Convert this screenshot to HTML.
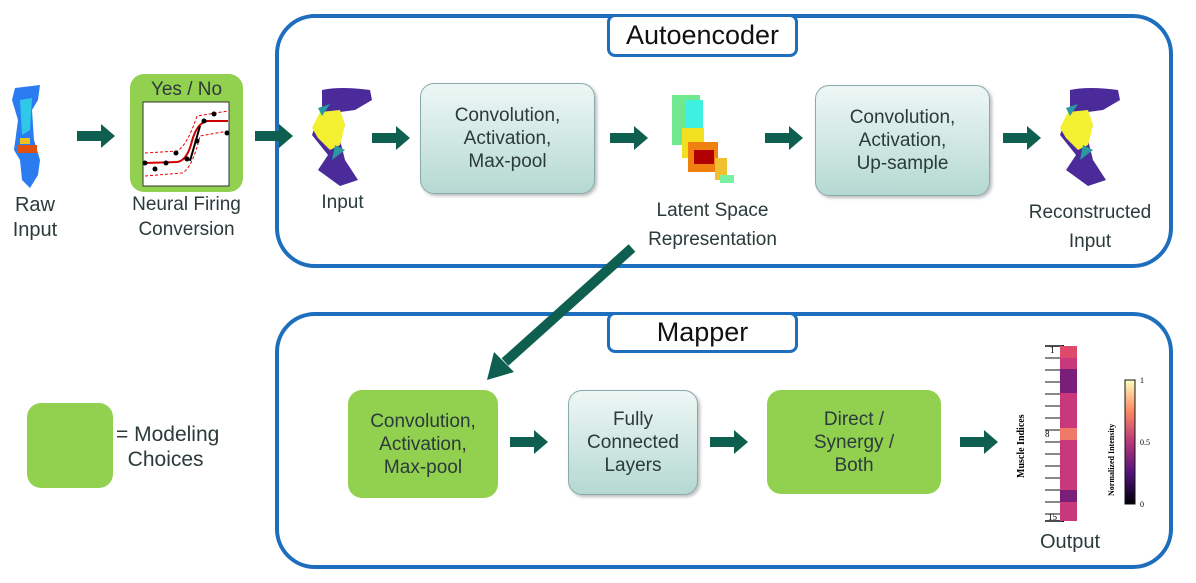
<!DOCTYPE html>
<html><head><style>
body{margin:0;width:1196px;height:583px;background:#fff;position:relative;overflow:hidden;font-family:"Liberation Sans",sans-serif;color:#222}
.a{position:absolute}
.big{border:4px solid #1d6fbd;border-radius:40px;box-sizing:border-box}
.title{background:#fff;border:3px solid #1d6fbd;border-radius:8px;box-sizing:border-box;font-size:27px;text-align:center;color:#111}
.teal{background:linear-gradient(#eef7f5,#b5d9d2);border:1px solid #8aa;border-radius:14px;box-sizing:border-box;display:flex;align-items:center;justify-content:center;text-align:center;font-size:19px;line-height:23px;color:#2b3a3a;box-shadow:2px 2px 3px #bbb}
.green{background:#92d050;border-radius:14px;display:flex;align-items:center;justify-content:center;text-align:center;font-size:19px;line-height:23px;color:#2b3a3a}
.lbl{font-size:19px;text-align:center;color:#2b3a3a;line-height:25px}
</style></head><body>
<div class="a big" style="left:275px;top:14px;width:898px;height:254px"></div>
<div class="a title" style="left:607px;top:14px;width:191px;height:43px;line-height:37px">Autoencoder</div>
<div class="a big" style="left:275px;top:312px;width:898px;height:257px"></div>
<div class="a title" style="left:607px;top:312px;width:191px;height:41px;line-height:35px">Mapper</div>

<div class="a teal" style="left:420px;top:83px;width:175px;height:111px">Convolution,<br>Activation,<br>Max-pool</div>
<div class="a teal" style="left:815px;top:85px;width:175px;height:111px">Convolution,<br>Activation,<br>Up-sample</div>
<div class="a green" style="left:348px;top:390px;width:150px;height:108px">Convolution,<br>Activation,<br>Max-pool</div>
<div class="a teal" style="left:568px;top:390px;width:130px;height:105px">Fully<br>Connected<br>Layers</div>
<div class="a green" style="left:767px;top:390px;width:174px;height:104px">Direct /<br>Synergy /<br>Both</div>
<div class="a green" style="left:27px;top:403px;width:86px;height:85px"></div>
<div class="a lbl" style="left:116px;top:422px;font-size:21px;text-align:left">= Modeling<br>&nbsp;&nbsp;Choices</div>

<div class="a green" style="left:130px;top:74px;width:113px;height:118px;display:block"><div style="text-align:center;font-size:19px;margin-top:4px">Yes / No</div>
<svg class="a" style="left:12px;top:27px" width="88" height="86"><rect x="1" y="1" width="86" height="84" fill="#fff" stroke="#333"/>
<path d="M3 62 L35 61 Q45 60 50 40 Q55 22 65 20 L86 20" stroke="#c00" stroke-width="2" fill="none"/>
<path d="M3 52 L35 50 Q45 45 55 15 L86 10 M3 75 L40 72 Q50 68 58 35 L86 30" stroke="#e00" stroke-dasharray="3,2" fill="none"/>
<path d="M48 60 L58 25" stroke="#000" stroke-width="2"/>
<g fill="#000"><circle cx="3" cy="62" r="2.5"/><circle cx="13" cy="68" r="2.5"/><circle cx="24" cy="62" r="2.5"/><circle cx="34" cy="52" r="2.5"/><circle cx="45" cy="58" r="2.5"/><circle cx="55" cy="40" r="2.5"/><circle cx="62" cy="20" r="2.5"/><circle cx="72" cy="13" r="2.5"/><circle cx="85" cy="32" r="2.5"/></g></svg></div>
<div class="a lbl" style="left:115px;top:192px;width:143px">Neural Firing<br>Conversion</div>
<div class="a lbl" style="left:0px;top:193px;width:70px;font-size:20px">Raw<br>Input</div>

<svg class="a" style="left:0;top:0" width="1196" height="583">
<defs><g id="ar"><rect x="0" y="-5" width="26" height="10" fill="#0e5f50"/><polygon points="24,-12 38,0 24,12" fill="#0e5f50"/></g></defs>
<use href="#ar" x="77" y="136"/><use href="#ar" x="255" y="136"/><use href="#ar" x="372" y="138"/><use href="#ar" x="610" y="138"/><use href="#ar" x="765" y="138"/><use href="#ar" x="1003" y="138"/><use href="#ar" x="510" y="442"/><use href="#ar" x="710" y="442"/><use href="#ar" x="960" y="442"/>
<line x1="632" y1="248" x2="505" y2="362" stroke="#0e5f50" stroke-width="10"/>
<polygon points="487,380 494,352 514,372" fill="#0e5f50"/>
<!-- raw input -->
<path d="M15 88 L40 85 L38 100 L32 110 L34 140 L40 160 L38 175 L30 188 L22 180 L20 160 L14 150 L18 120 L12 100 Z" fill="#2b7cf0"/>
<path d="M20 100 L32 98 L30 130 L22 135 Z" fill="#30c8e8"/>
<rect x="17" y="145" width="20" height="8" fill="#e05010"/><rect x="20" y="138" width="10" height="6" fill="#f0c020"/>
<!-- input shapes -->
<g id="sh"><path d="M322 90 Q340 86 370 90 L372 100 L355 110 L340 112 L345 125 L340 140 L345 160 L358 180 L340 186 L318 170 L328 155 L312 135 L318 118 L322 108 Z" fill="#4b2a9a"/>
<path d="M320 112 L340 110 L345 125 L340 145 L330 150 L318 138 L312 128 Z" fill="#f2f030"/>
<path d="M318 108 L330 104 L322 116 Z M335 145 L345 150 L332 160 Z" fill="#2a9aa0"/></g>
<use href="#sh" x="748" y="0"/>
<!-- latent -->
<rect x="672" y="95" width="28" height="50" fill="#70e890"/><rect x="685" y="100" width="18" height="30" fill="#3ef0e0"/>
<rect x="682" y="128" width="22" height="30" fill="#f0e020"/><rect x="688" y="142" width="30" height="30" fill="#f08010"/>
<rect x="694" y="150" width="20" height="14" fill="#b00000"/><rect x="715" y="158" width="12" height="22" fill="#f0c030"/><rect x="720" y="175" width="14" height="8" fill="#7af0a0"/>
<!-- output bar -->
<line x1="1063" y1="345" x2="1063" y2="522" stroke="#111" stroke-width="2"/>
<g stroke="#111" stroke-width="1.5"><line x1="1045" y1="346" x2="1063" y2="346"/><line x1="1045" y1="521" x2="1063" y2="521"/></g>
<g fill="#c8387a"><rect x="1060" y="346" width="17" height="175"/></g>
<rect x="1060" y="369" width="17" height="24" fill="#7a1e7a"/><rect x="1060" y="428" width="17" height="12" fill="#f07a6a"/><rect x="1060" y="490" width="17" height="12" fill="#7a1e7a"/><rect x="1060" y="346" width="17" height="12" fill="#e04a6a"/>
<g stroke="#111"><line x1="1045" y1="358" x2="1060" y2="358"/><line x1="1045" y1="370" x2="1060" y2="370"/><line x1="1045" y1="382" x2="1060" y2="382"/><line x1="1045" y1="394" x2="1060" y2="394"/><line x1="1045" y1="406" x2="1060" y2="406"/><line x1="1045" y1="418" x2="1060" y2="418"/><line x1="1045" y1="430" x2="1060" y2="430"/><line x1="1045" y1="442" x2="1060" y2="442"/><line x1="1045" y1="454" x2="1060" y2="454"/><line x1="1045" y1="466" x2="1060" y2="466"/><line x1="1045" y1="478" x2="1060" y2="478"/><line x1="1045" y1="490" x2="1060" y2="490"/><line x1="1045" y1="502" x2="1060" y2="502"/><line x1="1045" y1="514" x2="1060" y2="514"/></g>
<text x="1050" y="353" font-size="9" font-family="Liberation Serif">1</text><text x="1045" y="437" font-size="9" font-family="Liberation Serif">8</text><text x="1048" y="520" font-size="9" font-family="Liberation Serif">15</text>
<text transform="translate(1024,478) rotate(-90)" font-size="10" font-weight="bold" font-family="Liberation Serif">Muscle Indices</text>
<defs><linearGradient id="mg" x1="0" y1="0" x2="0" y2="1"><stop offset="0" stop-color="#fcfdbf"/><stop offset=".25" stop-color="#fc8961"/><stop offset=".5" stop-color="#b73779"/><stop offset=".75" stop-color="#51127c"/><stop offset="1" stop-color="#000004"/></linearGradient></defs>
<rect x="1125" y="380" width="10" height="124" fill="url(#mg)" stroke="#111"/>
<text x="1140" y="383" font-size="8" font-family="Liberation Serif">1</text><text x="1140" y="445" font-size="8" font-family="Liberation Serif">0.5</text><text x="1140" y="507" font-size="8" font-family="Liberation Serif">0</text>
<text transform="translate(1114,496) rotate(-90)" font-size="8" font-weight="bold" font-family="Liberation Serif">Normalized Intensity</text>
</svg>
<div class="a lbl" style="left:310px;top:190px;width:65px">Input</div>
<div class="a lbl" style="left:630px;top:196px;width:165px;line-height:29px">Latent Space<br>Representation</div>
<div class="a lbl" style="left:1010px;top:198px;width:160px;line-height:29px">Reconstructed<br>Input</div>
<div class="a lbl" style="left:1030px;top:530px;width:80px;font-size:20px">Output</div>
</body></html>
